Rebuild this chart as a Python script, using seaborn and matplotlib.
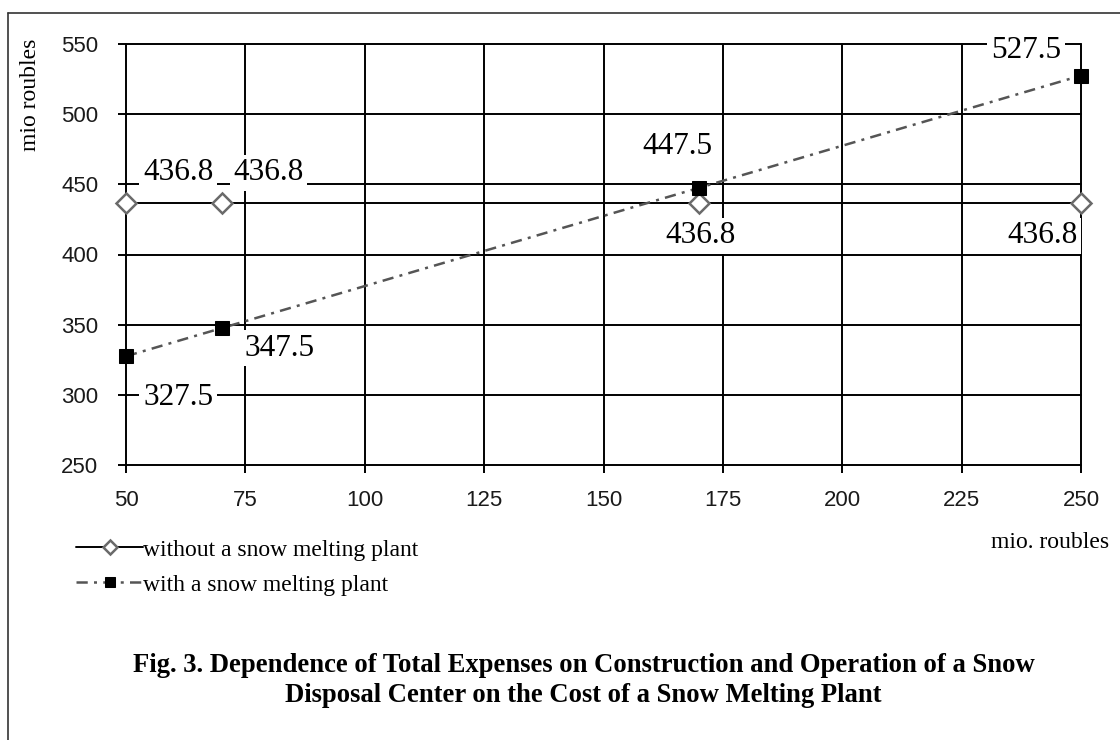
import matplotlib
matplotlib.use("Agg")
import matplotlib.pyplot as plt
import seaborn as sns
import pandas as pd
from matplotlib.lines import Line2D

# ---- data ----
cost_plant = [50, 70, 170, 250]
without_plant = [436.8, 436.8, 436.8, 436.8]
with_plant = [327.5, 347.5, 447.5, 527.5]
series_names = ["without a snow melting plant", "with a snow melting plant"]
x_ticks = [50, 75, 100, 125, 150, 175, 200, 225, 250]
y_ticks = [250, 300, 350, 400, 450, 500, 550]
title_lines = ["Fig. 3. Dependence of Total Expenses on Construction and Operation of a Snow",
               "Disposal Center on the Cost of a Snow Melting Plant"]

sns.set_style("white")
plt.rcParams['font.family'] = ['Liberation Sans', 'DejaVu Sans']
plt.rcParams['text.color'] = 'black'
SERIF = ['Liberation Serif', 'DejaVu Serif']

fig = plt.figure(figsize=(11.2, 7.4), dpi=100)
W, H = 1120, 740
ax = fig.add_axes([126 / W, 1 - 465 / H, (1081 - 126) / W, (465 - 44) / H])

df_wo = pd.DataFrame({"x": cost_plant, "y": without_plant})
df_w = pd.DataFrame({"x": cost_plant, "y": with_plant})

sns.lineplot(data=df_wo, x="x", y="y", ax=ax, color="black", lw=1.4,
             marker="D", markersize=10, markerfacecolor="white",
             markeredgecolor="#6a6a6a", markeredgewidth=1.8,
             label=series_names[0], zorder=3)
sns.lineplot(data=df_w, x="x", y="y", ax=ax, color="#555555", lw=1.8,
             marker="s", markersize=10, markerfacecolor="black",
             markeredgecolor="black", label=series_names[1], zorder=4)
ax.lines[1].set_dashes([4.5, 2.5, 1.2, 2.5])
for ln in ax.lines:
    ln.set_clip_on(False)

ax.set_xlim(50, 250)
ax.set_ylim(250, 550)
ax.set_xticks(x_ticks)
ax.set_yticks(y_ticks)
ax.set_xlabel("")
ax.set_ylabel("")
ax.grid(True, color="black", lw=1.4)
ax.set_axisbelow(True)
for s in ax.spines.values():
    s.set_visible(False)
for gl in ax.get_xgridlines() + ax.get_ygridlines():
    gl.set_clip_on(False)
ax.tick_params(axis="both", which="both", direction="out", length=6, width=1.4,
               color="black", labelsize=16, labelcolor="#1a1a1a",
               left=True, bottom=True)
ax.tick_params(axis="x", pad=12)
ax.tick_params(axis="y", pad=14)

# data labels
bbox = dict(boxstyle="square,pad=0.12", fc="white", ec="none")
label_offsets_wo = [(52, 30), (47, 30), (1, -33), (-39, -33)]
label_offsets_w = [(52, -41), (58, -20), (-22, 41), (-55, 25)]
for xv, yv, off in zip(cost_plant, without_plant, label_offsets_wo):
    ax.annotate(f"{yv:.1f}", (xv, yv), xytext=off, textcoords="offset pixels",
                ha="center", va="center", fontsize=22.5, family=SERIF,
                color="black", bbox=bbox, zorder=2.5, annotation_clip=False)
for xv, yv, off in zip(cost_plant, with_plant, label_offsets_w):
    ax.annotate(f"{yv:.1f}", (xv, yv), xytext=off, textcoords="offset pixels",
                ha="center", va="center", fontsize=22.5, family=SERIF,
                color="black", bbox=bbox, zorder=2.5, annotation_clip=False)

# legend
leg = ax.legend(loc="upper left", bbox_to_anchor=(76 / W, 1 - 539 / H),
                bbox_transform=fig.transFigure, frameon=False,
                prop={"family": SERIF, "size": 17}, handlelength=2.85,
                handletextpad=0.0, borderpad=0, borderaxespad=0,
                labelspacing=0.58, labelcolor="black")
for h in leg.legend_handles:
    h.set_markersize(7)

# axis titles
fig.text(30 / W, 1 - 95 / H, "mio roubles", rotation=90, ha="center",
         va="center", fontsize=17, family=SERIF, color="black")
fig.text(1050 / W, 1 - 543 / H, "mio. roubles", ha="center", va="center",
         fontsize=17, family=SERIF, color="black")

# caption
fig.text(584 / W, 1 - 665 / H, title_lines[0], ha="center", va="center",
         fontsize=19.2, fontweight="bold", family=SERIF, color="black")
fig.text(583 / W, 1 - 695 / H, title_lines[1], ha="center", va="center",
         fontsize=19.2, fontweight="bold", family=SERIF, color="black")

# page frame lines
fig.add_artist(Line2D([8 / W, 1], [1 - 13 / H, 1 - 13 / H], transform=fig.transFigure,
                      color="#333333", lw=1.2))
fig.add_artist(Line2D([8 / W, 8 / W], [0, 1 - 13 / H], transform=fig.transFigure,
                      color="#333333", lw=1.2))

fig.savefig("out.png", dpi=100, facecolor="white")
